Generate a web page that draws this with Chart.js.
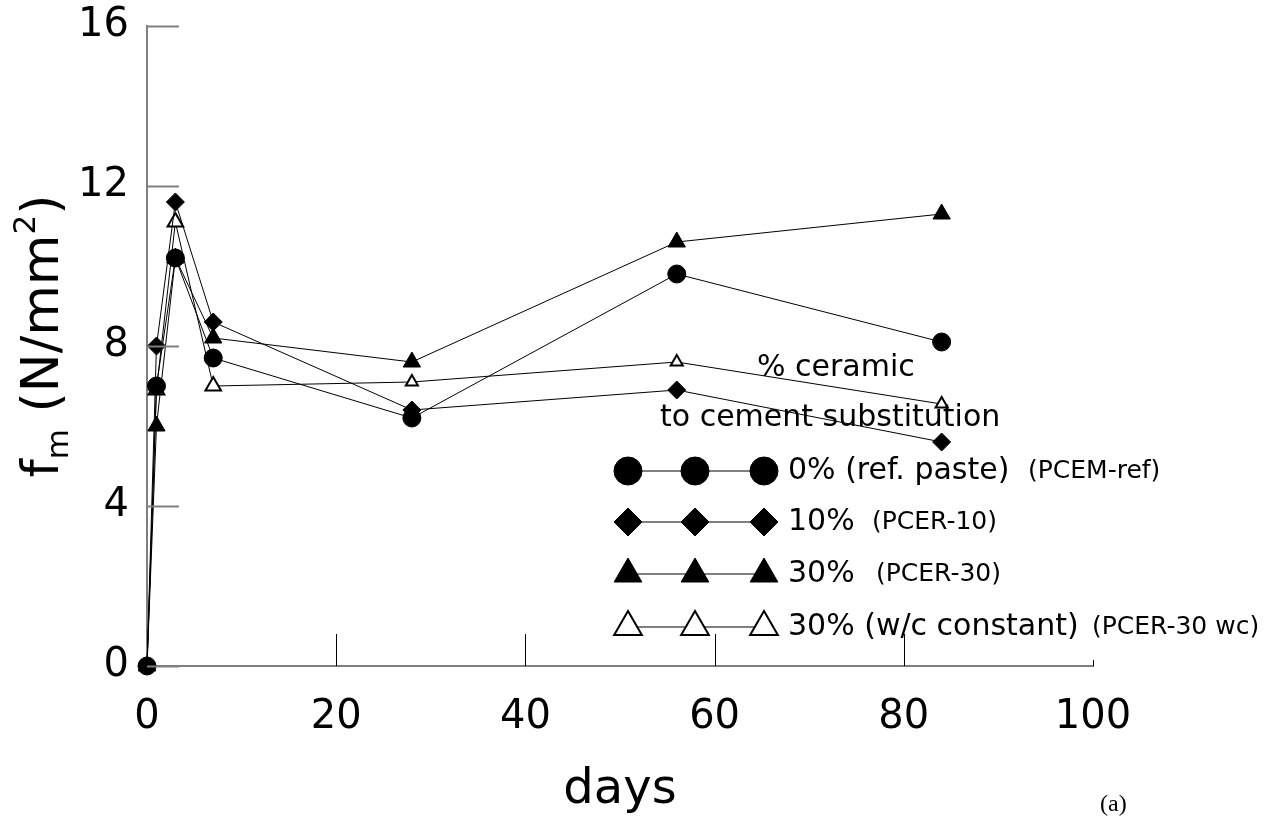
<!DOCTYPE html>
<html>
<head>
<meta charset="utf-8">
<title>fm vs days</title>
<script src="https://cdn.jsdelivr.net/npm/chart.js@4.4.0/dist/chart.umd.min.js"></script>
<style>
  html, body { margin: 0; padding: 0; background: #fff; }
  #chart { display: block; }
</style>
</head>
<body>
<canvas id="chart" width="1277" height="821"></canvas>
<script>
const FONT = '"Comic Sans MS", "DejaVu Sans", sans-serif';

// data
const days = [0, 1, 3, 7, 28, 56, 84];
const pcemRef = [0, 7.0, 10.2, 7.7, 6.2, 9.8, 8.1];
const pcer10 = [0, 8.0, 11.6, 8.6, 6.4, 6.9, 5.6];
const pcer30 = [0, 6.0, 10.2, 8.2, 7.6, 10.6, 11.3];
const pcer30wc = [0, 6.9, 11.1, 7.0, 7.1, 7.6, 6.55];

const xTickValues = [0, 20, 40, 60, 80, 100];
const yTickValues = [0, 4, 8, 12, 16];

const legendTitle = ['% ceramic', 'to cement substitution'];
const legendLabels = ['0% (ref. paste)', '10%', '30%', '30% (w/c constant)'];
const legendCodes = ['(PCEM-ref)', '(PCER-10)', '(PCER-30)', '(PCER-30 wc)'];

function pts(vals) {
  return days.map((d, i) => ({ x: d, y: vals[i] }));
}

// marker styles, same order as legend rows
const markers = [
  { style: 'circle', radius: 9, legendRadius: 14, fill: '#000' },
  { style: 'rectRot', radius: 9, legendRadius: 14, fill: '#000' },
  { style: 'triangle', radius: 10, legendRadius: 16, fill: '#000' },
  { style: 'triangle', radius: [8, 9, 9, 9, 7, 7, 7], legendRadius: 16, fill: '#fff' }
];

function ds(label, vals, m) {
  return {
    label: label,
    data: pts(vals),
    borderColor: '#000',
    borderWidth: 1,
    pointStyle: m.style,
    pointRadius: m.radius,
    pointHoverRadius: m.radius,
    pointBackgroundColor: m.fill,
    pointBorderColor: '#000',
    pointBorderWidth: m.fill === '#fff' ? 2 : 1,
    fill: false,
    clip: false,
    tension: 0
  };
}

function drawMarker(ctx, m, x, y) {
  ctx.save();
  ctx.fillStyle = m.fill;
  ctx.strokeStyle = '#000';
  ctx.lineWidth = m.fill === '#fff' ? 2 : 1;
  Chart.helpers.drawPoint(ctx, { pointStyle: m.style, radius: m.legendRadius, rotation: 0, borderWidth: ctx.lineWidth }, x, y);
  ctx.restore();
}

const paperAxes = {
  id: 'paperAxes',
  afterDraw(chart) {
    const ctx = chart.ctx;
    const xs = chart.scales.x, ys = chart.scales.y;
    const area = chart.chartArea;
    ctx.save();

    // inward y ticks
    ctx.strokeStyle = '#7f7f7f';
    ctx.lineWidth = 2;
    yTickValues.forEach(v => {
      const py = Math.round(ys.getPixelForValue(v)) + 0.5;
      ctx.beginPath();
      ctx.moveTo(area.left, py);
      ctx.lineTo(area.left + 32, py);
      ctx.stroke();
    });

    // upward x ticks
    ctx.strokeStyle = '#000';
    ctx.lineWidth = 1;
    xTickValues.forEach(v => {
      if (v === 0) return;
      const px = Math.round(xs.getPixelForValue(v)) + 0.5;
      const len = v === 100 ? 6 : 32;
      ctx.beginPath();
      ctx.moveTo(px, area.bottom);
      ctx.lineTo(px, area.bottom - len);
      ctx.stroke();
    });

    // x title
    ctx.fillStyle = '#000';
    ctx.font = '48px ' + FONT;
    ctx.textAlign = 'center';
    ctx.textBaseline = 'alphabetic';
    ctx.fillText('days', (area.left + area.right) / 2, 803);

    // y title with sub/superscript
    const big = '52px ' + FONT, small = '31px ' + FONT;
    const parts = [
      { t: 'f', f: big, dy: 0 },
      { t: 'm', f: small, dy: 10 },
      { t: ' (N/mm', f: big, dy: 0 },
      { t: '2', f: small, dy: -23 },
      { t: ')', f: big, dy: 0 }
    ];
    let total = 0;
    parts.forEach(p => { ctx.font = p.f; p.w = ctx.measureText(p.t).width; total += p.w; });
    ctx.translate(58, 336);
    ctx.rotate(-Math.PI / 2);
    ctx.textAlign = 'left';
    let cx = -total / 2;
    parts.forEach(p => {
      ctx.font = p.f;
      ctx.fillText(p.t, cx, p.dy);
      cx += p.w;
    });
    ctx.setTransform(1, 0, 0, 1, 0, 0);

    // legend
    ctx.textBaseline = 'middle';
    ctx.textAlign = 'left';
    ctx.font = '30px ' + FONT;
    ctx.fillText(legendTitle[0], 757, 368);
    ctx.fillText(legendTitle[1], 660, 418);

    const rowY = [471, 522, 574, 627];
    const mx = [628, 695, 764];
    const codeX = [1028, 872, 876, 1092];
    rowY.forEach((y, i) => {
      ctx.strokeStyle = '#555';
      ctx.lineWidth = 1.5;
      ctx.beginPath();
      ctx.moveTo(mx[0], y);
      ctx.lineTo(mx[2], y);
      ctx.stroke();
      mx.forEach(x => drawMarker(ctx, markers[i], x, y));
      ctx.fillStyle = '#000';
      ctx.font = '30px ' + FONT;
      ctx.fillText(legendLabels[i], 788, y);
      ctx.font = '25px ' + FONT;
      ctx.fillText(legendCodes[i], codeX[i], y);
    });

    // panel tag
    ctx.font = '24px "Liberation Serif", "Times New Roman", serif';
    ctx.fillText('(a)', 1100, 805);
    ctx.restore();
  }
};

new Chart(document.getElementById('chart'), {
  type: 'line',
  data: {
    datasets: [
      ds('0% (ref. paste)', pcemRef, markers[0]),
      ds('10%', pcer10, markers[1]),
      ds('30%', pcer30, markers[2]),
      ds('30% (w/c constant)', pcer30wc, markers[3])
    ]
  },
  options: {
    responsive: false,
    animation: false,
    events: [],
    layout: { padding: { top: 26, right: 184, left: 0, bottom: 0 } },
    plugins: {
      legend: { display: false },
      tooltip: { enabled: false }
    },
    scales: {
      x: {
        type: 'linear',
        min: 0,
        max: 100,
        afterBuildTicks: s => { s.ticks = xTickValues.map(v => ({ value: v })); },
        afterFit: s => { s.height = 155; s.paddingLeft = 0; s.paddingRight = 0; },
        grid: { display: false },
        border: { display: true, color: '#7f7f7f', width: 2 },
        ticks: { color: '#000', font: { family: FONT, size: 40 }, padding: 20, maxRotation: 0 }
      },
      y: {
        type: 'linear',
        min: 0,
        max: 16,
        afterBuildTicks: s => { s.ticks = yTickValues.map(v => ({ value: v })); },
        afterFit: s => { s.width = 147; s.paddingTop = 0; s.paddingBottom = 0; },
        grid: { display: false },
        border: { display: true, color: '#7f7f7f', width: 2 },
        ticks: { color: '#000', font: { family: FONT, size: 40 }, padding: 10 }
      }
    }
  },
  plugins: [paperAxes]
});
</script>
</body>
</html>
